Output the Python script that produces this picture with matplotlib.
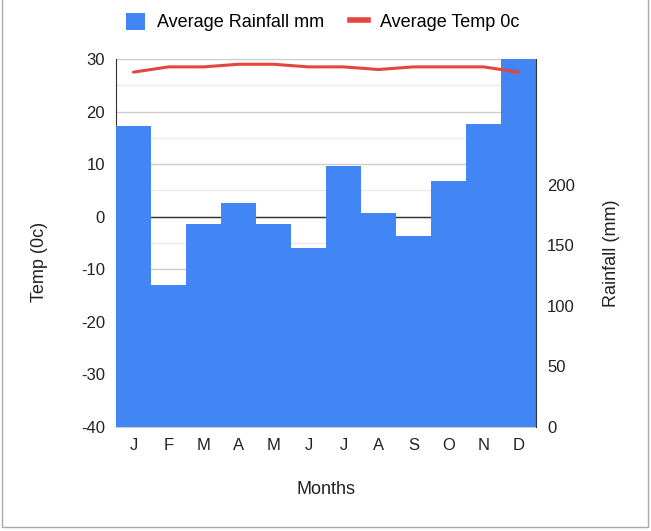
import matplotlib
matplotlib.use("Agg")
import matplotlib.pyplot as plt
from matplotlib.patches import Rectangle
from matplotlib.lines import Line2D
from matplotlib.patches import Patch
import numpy as np

months = ["J", "F", "M", "A", "M", "J", "J", "A", "S", "O", "N", "D"]
rainfall_mm = [249, 117, 168, 185, 168, 148, 216, 177, 158, 203, 250, 320]
temp_c = [27.5, 28.5, 28.5, 29, 29, 28.5, 28.5, 28, 28.5, 28.5, 28.5, 27.5]
temp_ticks = [-40, -30, -20, -10, 0, 10, 20, 30]
rain_ticks = [0, 50, 100, 150, 200]

plt.rcParams['font.family'] = ['Liberation Sans', 'DejaVu Sans']
plt.rcParams['axes.unicode_minus'] = False
BLUE = "#4285f4"
RED = "#e5463b"
FS = 12
TFS = 13
TXT = '#222222'

W, H = 651, 531
fig = plt.figure(figsize=(W / 100, H / 100), dpi=100)
fig.patch.set_facecolor("white")

left, right, top, bottom = 116, 536, 59, 427
ax = fig.add_axes([left / W, 1 - bottom / H, (right - left) / W, (bottom - top) / H])
x = np.arange(len(months))

# temperature axis (left): gridlines
ax.set_xlim(-0.5, len(months) - 0.5)
ax.set_ylim(-40, 30)
ax.set_yticks(temp_ticks)
ax.set_yticks(np.arange(-35, 30, 10), minor=True)
ax.grid(axis='y', which='major', color='#cccccc', lw=1, zorder=0)
ax.grid(axis='y', which='minor', color='#ebebeb', lw=1, zorder=0)
ax.axhline(0, color='#333333', lw=1, zorder=5)
ax.tick_params(axis='y', which='both', length=0, labelsize=FS, pad=8, colors=TXT)
ax.tick_params(axis='x', length=0, labelsize=FS, pad=8, colors=TXT)
ax.set_xticks(x)
ax.set_xticklabels(months)
for s in ['top', 'right']:
    ax.spines[s].set_visible(False)
ax.spines['bottom'].set_color('#cccccc')
ax.spines['left'].set_color('#333333')

# rainfall axis (right): bars
ax2 = ax.twinx()
ax2.bar(x, rainfall_mm, width=1.0, color=BLUE, zorder=2)
ax2.set_ylim(0, 304)
ax2.set_yticks(rain_ticks)
ax2.tick_params(axis='y', length=0, labelsize=FS, pad=8, colors=TXT)
for s in ['top', 'left', 'bottom']:
    ax2.spines[s].set_visible(False)
ax2.spines['right'].set_color('#333333')

# temperature line on a matching overlay axis
ax3 = ax.twinx()
ax3.set_ylim(-40, 30)
ax3.plot(x, temp_c, color=RED, lw=2.2, solid_capstyle='round')
ax3.axis('off')

# axis titles
fig.text(40 / W, 1 - 262 / H, "Temp (0c)", rotation=90, ha='center', va='center', fontsize=TFS, color=TXT)
fig.text(611 / W, 1 - 253 / H, "Rainfall (mm)", rotation=90, ha='center', va='center', fontsize=TFS, color=TXT)
fig.text(326 / W, 1 - 489 / H, "Months", ha='center', va='center', fontsize=TFS, color=TXT)

# legend
handles = [Patch(facecolor=BLUE, edgecolor='none'), Line2D([0], [0], color=RED, lw=4)]
fig.legend(handles, ["Average Rainfall mm", "Average Temp 0c"], loc='center',
           bbox_to_anchor=(323 / W, 1 - 22 / H), ncol=2, frameon=False, fontsize=TFS,
           handlelength=1.05, handleheight=1.1, handletextpad=0.65, columnspacing=1.4)

# outer border
fig.add_artist(Rectangle((2 / W, 4 / H), 646 / W, 1.2, transform=fig.transFigure,
                         fill=False, edgecolor='#aaaaaa', lw=1))

fig.savefig("out.png", dpi=100)
